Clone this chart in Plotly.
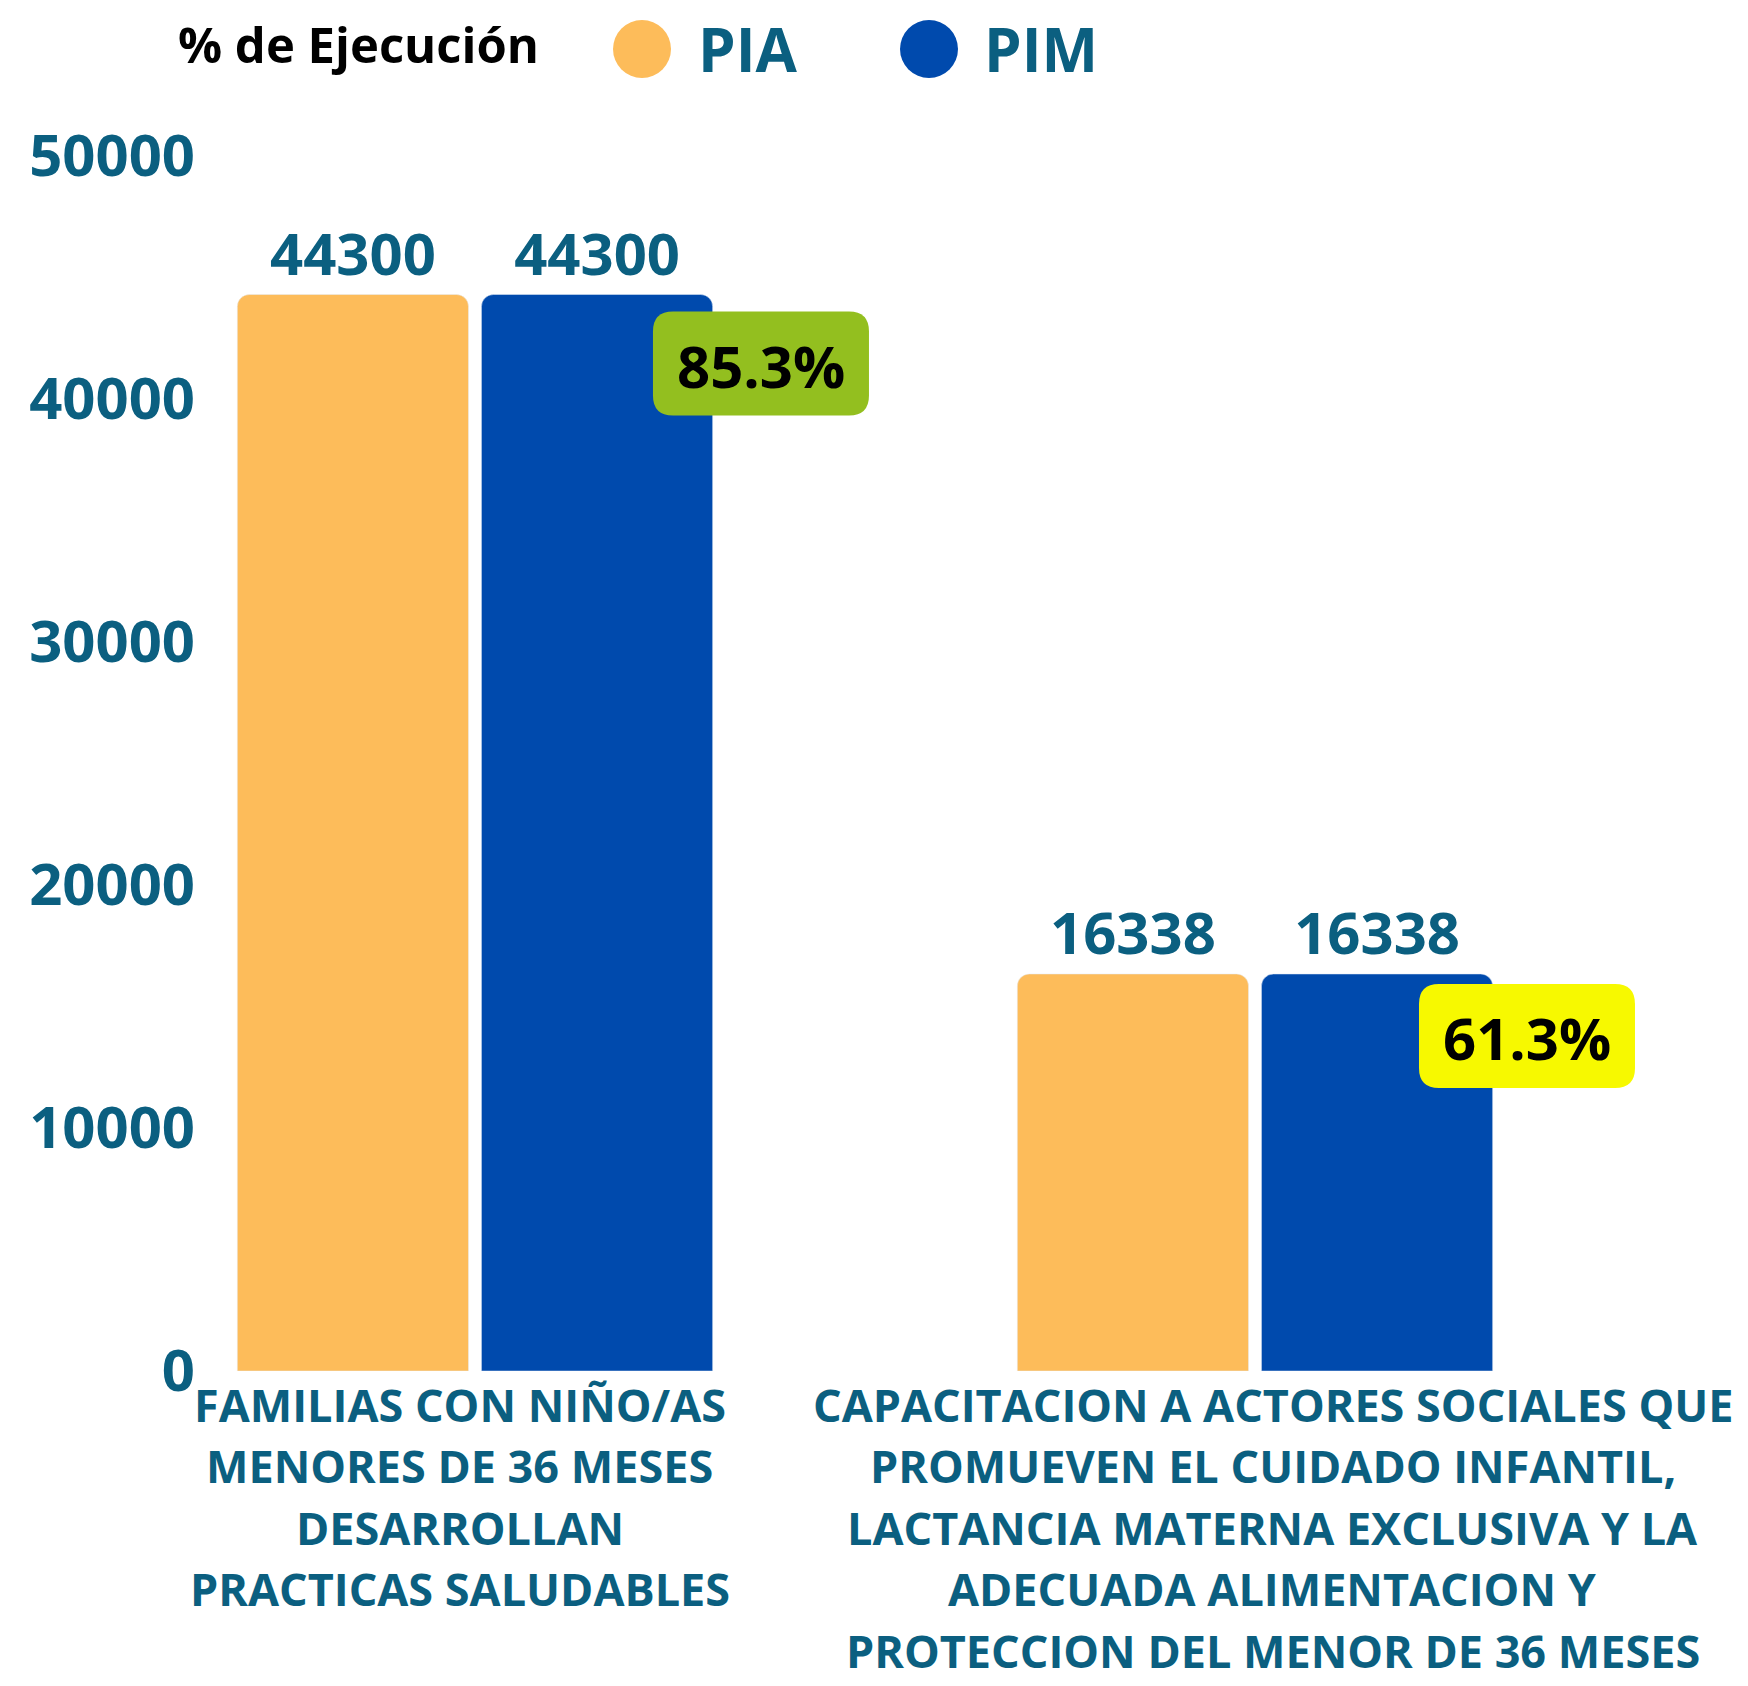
import plotly.graph_objects as go

# ---- data ----
categories = [
    "FAMILIAS CON NIÑO/AS MENORES DE 36 MESES DESARROLLAN PRACTICAS SALUDABLES",
    "CAPACITACION A ACTORES SOCIALES QUE PROMUEVEN EL CUIDADO INFANTIL, LACTANCIA MATERNA EXCLUSIVA Y LA ADECUADA ALIMENTACION Y PROTECCION DEL MENOR DE 36 MESES",
]
category_lines = [
    ["FAMILIAS CON NIÑO/AS", "MENORES DE 36 MESES", "DESARROLLAN", "PRACTICAS SALUDABLES"],
    ["CAPACITACION A ACTORES SOCIALES QUE", "PROMUEVEN EL CUIDADO INFANTIL,",
     "LACTANCIA MATERNA EXCLUSIVA Y LA", "ADECUADA ALIMENTACION Y",
     "PROTECCION DEL MENOR DE 36 MESES"],
]
pia_values = [44300, 16338]
pim_values = [44300, 16338]
ejecucion_pct = [85.3, 61.3]
y_ticks = [0, 10000, 20000, 30000, 40000, 50000]
series_names = ["PIA", "PIM"]
legend_title = "% de Ejecución"

# ---- style ----
PIA_COLOR = "#FDBC5A"
PIM_COLOR = "#004AAD"
TEAL = "#0B5F80"
BADGE_COLORS = ["#93BF1F", "#F7F900"]
FONT = "Open Sans"

BODY = 8  # browser default body margin
W, H = 1748 - BODY, 1686 - BODY
ML, MR, MT, MB = 202, 8, 148, 315
PW = W - ML - MR
PH = H - MT - MB


def px_x(px):
    return (px - BODY - ML) / PW


def px_y(py):
    return (H - MB - (py - BODY)) / PH


fig = go.Figure()
fig.add_trace(go.Bar(
    name=series_names[0], x=categories, y=pia_values, marker_color=PIA_COLOR,
    text=pia_values, textposition="outside", cliponaxis=False,
    textfont=dict(family=FONT, size=58, color=TEAL, weight=700),
))
fig.add_trace(go.Bar(
    name=series_names[1], x=categories, y=pim_values, marker_color=PIM_COLOR,
    text=pim_values, textposition="outside", cliponaxis=False,
    textfont=dict(family=FONT, size=58, color=TEAL, weight=700),
))

# execution badges (rounded rectangles anchored at PIM bar tops)
bw, bh, r = 216, 104, 20
badge_left = [178, 164]
badge_top = [-17, -10]
for cat, val, pct, col, left, top in zip(categories, pim_values, ejecucion_pct,
                                         BADGE_COLORS, badge_left, badge_top):
    x0, x1 = left, left + bw
    y1, y0 = top, top - bh
    path = (f"M{x0 + r},{y1} L{x1 - r},{y1} Q{x1},{y1} {x1},{y1 - r} "
            f"L{x1},{y0 + r} Q{x1},{y0} {x1 - r},{y0} L{x0 + r},{y0} "
            f"Q{x0},{y0} {x0},{y0 + r} L{x0},{y1 - r} Q{x0},{y1} {x0 + r},{y1} Z")
    fig.add_shape(type="path", xref="x", yref="y", xsizemode="pixel", ysizemode="pixel",
                  xanchor=cat, yanchor=val, path=path, fillcolor=col, line_width=0,
                  layer="above")
    fig.add_annotation(x=cat, y=val, xref="x", yref="y", text=f"{pct}%", showarrow=False,
                       xshift=left + bw / 2, yshift=top - bh / 2 - 2,
                       font=dict(family=FONT, size=58, color="black", weight=700))

# category labels (multi-line, custom spacing)
label_xshift = [-15, 18]
for cat, lines, dx in zip(categories, category_lines, label_xshift):
    for i, line in enumerate(lines):
        fig.add_annotation(x=cat, y=0, xref="x", yref="paper", text=line, showarrow=False,
                           yanchor="middle", xshift=dx, yshift=-(33 + i * 61.6),
                           font=dict(family=FONT, size=45, color=TEAL, weight=700))

# custom legend
fig.add_annotation(x=px_x(358), y=px_y(44), xref="paper", yref="paper", text=legend_title,
                   showarrow=False, xanchor="center", yanchor="middle",
                   font=dict(family=FONT, size=49, color="black", weight=700))
for name, col, cx, tx in zip(series_names, [PIA_COLOR, PIM_COLOR], [642, 929], [696, 982]):
    fig.add_shape(type="circle", xref="paper", yref="paper",
                  x0=px_x(cx - 29), x1=px_x(cx + 29), y0=px_y(49 + 29), y1=px_y(49 - 29),
                  fillcolor=col, line_width=0)
    fig.add_annotation(x=px_x(tx), y=px_y(49), xref="paper", yref="paper", text=name,
                       showarrow=False, xanchor="left", yanchor="middle",
                       font=dict(family=FONT, size=60, color=TEAL, weight=700))

fig.update_layout(
    width=W, height=H,
    margin=dict(l=ML, r=MR, t=MT, b=MB, autoexpand=False),
    paper_bgcolor="white", plot_bgcolor="white",
    barmode="group", bargap=0.374, bargroupgap=0.053, barcornerradius=12,
    showlegend=False,
    font=dict(family=FONT, color=TEAL),
)
fig.update_xaxes(type="category", range=[-0.3397, 1.6218], showticklabels=False,
                 showgrid=False, zeroline=False, showline=False, ticks="")
fig.update_yaxes(range=[0, 50000], tickvals=y_ticks, ticktext=[str(v) for v in y_ticks],
                 showgrid=False, zeroline=False, showline=False, ticks="",
                 ticklabelstandoff=14,
                 tickfont=dict(family=FONT, size=58, color=TEAL, weight=700))

fig.write_html("out.html")
